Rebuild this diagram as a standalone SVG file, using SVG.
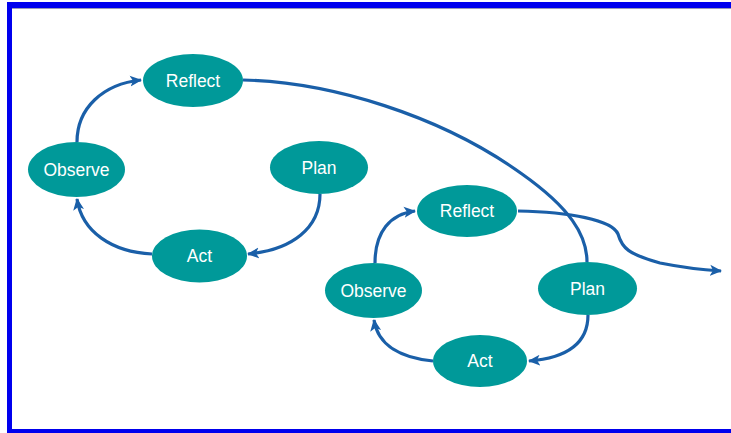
<svg xmlns="http://www.w3.org/2000/svg" width="731" height="433" viewBox="0 0 731 433">
<style>
.node ellipse{fill:#009999}
.node text{fill:#ffffff;font-family:"Liberation Sans",Arial,sans-serif;font-size:17.5px;text-anchor:middle;dominant-baseline:central}
.edge{fill:none;stroke:#1a5fa8;stroke-width:3.2}
</style>
<defs>
<marker id="ah" markerUnits="userSpaceOnUse" markerWidth="14" markerHeight="12" refX="11" refY="6" orient="auto">
<path d="M0,0.5 L12,6 L0,11.5 L3,6 Z" fill="#1a5fa8"/>
</marker>
</defs>
<rect x="0" y="0" width="731" height="433" fill="#ffffff"/>
<g id="frame">
<rect x="7" y="2" width="724" height="6" fill="#0000ee"/>
<rect x="12" y="8" width="719" height="1" fill="#9a9ab8"/>
<rect x="7" y="2" width="5" height="431" fill="#0000ee"/>
<rect x="7" y="429" width="724" height="4" fill="#0000ee"/>
</g>
<g id="connectors">
<path class="edge" d="M77,142 C77,108 103,84 141,80" marker-end="url(#ah)"/>
<path class="edge" d="M152,254 C112,252 82,232 77,199" marker-end="url(#ah)"/>
<path class="edge" d="M320,194 C320,228 292,250 248,254" marker-end="url(#ah)"/>
<path class="edge" d="M375,263 C375,232 390,214 415,211" marker-end="url(#ah)"/>
<path class="edge" d="M433,361 C402,358 378,346 374,320" marker-end="url(#ah)"/>
<path class="edge" d="M588,315 C588,344 566,358 529,361" marker-end="url(#ah)"/>
<path class="edge" d="M243,80 C330,82 440,115 522,174 C570,208 587,235 587,262"/>
<path class="edge" d="M518,211 C570,212 612,220 618,234 C622,248 628,254 660,263 C685,268 705,270 721,271" marker-end="url(#ah)"/>
</g>
<g id="reflect1" class="node"><ellipse cx="193" cy="80.5" rx="50" ry="26.5"/><text x="193" y="80.5">Reflect</text></g>
<g id="observe1" class="node"><ellipse cx="76.5" cy="169.5" rx="48.5" ry="27.5"/><text x="76.5" y="169.5">Observe</text></g>
<g id="plan1" class="node"><ellipse cx="319" cy="167.5" rx="49" ry="26.5"/><text x="319" y="167.5">Plan</text></g>
<g id="act1" class="node"><ellipse cx="199.5" cy="256" rx="47.5" ry="26.5"/><text x="199.5" y="256">Act</text></g>
<g id="reflect2" class="node"><ellipse cx="467" cy="211" rx="50" ry="26"/><text x="467" y="211">Reflect</text></g>
<g id="observe2" class="node"><ellipse cx="373.5" cy="290.5" rx="48.5" ry="27.5"/><text x="373.5" y="290.5">Observe</text></g>
<g id="plan2" class="node"><ellipse cx="587.5" cy="288.5" rx="49.5" ry="26.5"/><text x="587.5" y="288.5">Plan</text></g>
<g id="act2" class="node"><ellipse cx="480" cy="361" rx="47" ry="26"/><text x="480" y="361">Act</text></g>
</svg>
